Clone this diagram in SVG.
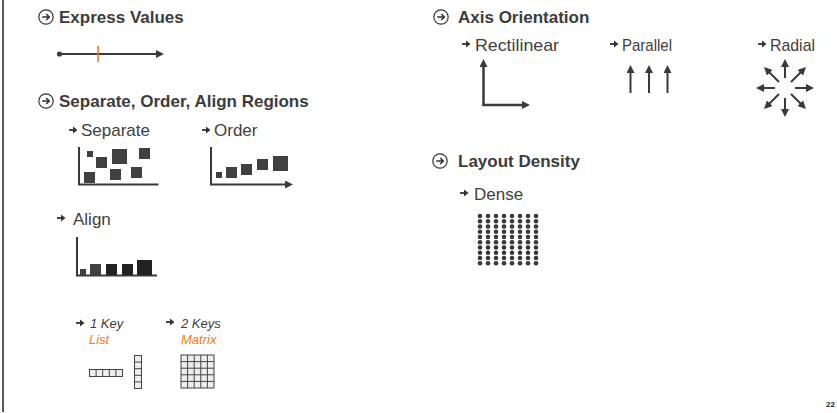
<svg xmlns="http://www.w3.org/2000/svg" xmlns:xlink="http://www.w3.org/1999/xlink" width="837" height="413" viewBox="0 0 837 413">
<style>
.h{font-family:"Liberation Sans",Arial,sans-serif;font-weight:bold;font-size:17px;fill:#3c3c3c}
.s{font-family:"Liberation Sans",Arial,sans-serif;font-size:17px;fill:#404040}
.k{font-family:"Liberation Sans",Arial,sans-serif;font-style:italic;font-size:13px;fill:#3c3c3c}
.o{font-family:"Liberation Sans",Arial,sans-serif;font-style:italic;font-size:13px;fill:#f47920}
.ax{stroke:#3a3a3a;stroke-width:2;fill:none}
.ax3{stroke:#3a3a3a;stroke-width:2.5;fill:none}
.sq{fill:#404040}
.dk{fill:#222}
.cell{fill:#eeeeee;stroke:#444;stroke-width:1}
.dot{fill:#3a3a3a}
</style>
<defs>
<marker id="ah" viewBox="0 0 8 8" refX="1" refY="4" markerWidth="8" markerHeight="8" markerUnits="userSpaceOnUse" orient="auto">
<path d="M0,0 L8,4 L0,8 z" fill="#3a3a3a"/>
</marker>
<g id="icon">
<circle cx="0" cy="0" r="7.2" fill="none" stroke="#333" stroke-width="1.2"/>
<path d="M-3.8,0 H3 M0.2,-3 L3.3,0 L0.2,3" fill="none" stroke="#333" stroke-width="1.5"/>
</g>
<g id="sa">
<path d="M0,0 H5" stroke="#333" stroke-width="1.8"/>
<path d="M4,-3.5 L8.5,0 L4,3.5 z" fill="#333"/>
</g>
<g id="drow">
<circle class="dot" cx="480" cy="0" r="2.3"/><circle class="dot" cx="488" cy="0" r="2.3"/>
<circle class="dot" cx="496" cy="0" r="2.3"/><circle class="dot" cx="504" cy="0" r="2.3"/>
<circle class="dot" cx="512" cy="0" r="2.3"/><circle class="dot" cx="520" cy="0" r="2.3"/>
<circle class="dot" cx="528" cy="0" r="2.3"/><circle class="dot" cx="536" cy="0" r="2.3"/>
</g>
</defs>
<rect width="837" height="413" fill="#ffffff"/>
<line x1="3" y1="0" x2="3" y2="412" stroke="#222" stroke-width="1.5"/>

<g id="express-values">
<use xlink:href="#icon" x="46" y="17"/>
<text class="h" x="59" y="23">Express Values</text>
<circle cx="59.5" cy="54" r="2.6" fill="#3a3a3a"/>
<line x1="59" y1="54" x2="157" y2="54" class="ax" marker-end="url(#ah)"/>
<line x1="98" y1="46" x2="98" y2="62" stroke="#f47920" stroke-width="1.6"/>
</g>

<g id="separate-order-align">
<use xlink:href="#icon" x="46" y="101"/>
<text class="h" x="59" y="107">Separate, Order, Align Regions</text>
</g>

<g id="separate">
<use xlink:href="#sa" x="69" y="130"/>
<text class="s" x="81" y="136">Separate</text>
<path d="M79,147 V184.5 H158.5" class="ax"/>
<rect class="sq" x="87" y="151" width="6" height="6"/>
<rect class="sq" x="96" y="157" width="11" height="11"/>
<rect class="sq" x="112" y="149" width="15" height="15"/>
<rect class="sq" x="139" y="148" width="11" height="11"/>
<rect class="sq" x="84" y="172" width="11" height="11"/>
<rect class="sq" x="110" y="169" width="11" height="11"/>
<rect class="sq" x="131" y="167" width="11" height="11"/>
</g>

<g id="order">
<use xlink:href="#sa" x="202" y="130"/>
<text class="s" x="214" y="136">Order</text>
<path d="M211,147 V184.5 H286" class="ax" marker-end="url(#ah)"/>
<rect class="sq" x="216" y="172" width="6" height="6"/>
<rect class="sq" x="226" y="167" width="11" height="11"/>
<rect class="sq" x="241" y="164" width="11" height="11"/>
<rect class="sq" x="257" y="159" width="11" height="11"/>
<rect class="sq" x="273" y="156" width="15" height="15"/>
</g>

<g id="align">
<use xlink:href="#sa" x="57" y="218"/>
<text class="s" x="73" y="225">Align</text>
<path d="M77,237 V275.5 H157" class="ax"/>
<rect class="sq" x="80" y="269" width="6" height="6"/>
<rect class="sq" x="90" y="264" width="11" height="11"/>
<rect class="dk" x="106" y="264" width="11" height="11"/>
<rect class="dk" x="122" y="264" width="11" height="11"/>
<rect class="dk" x="137" y="260" width="15" height="15"/>
</g>

<g id="one-key">
<use xlink:href="#sa" x="76" y="323"/>
<text class="k" x="90" y="328">1 Key</text>
<text class="o" x="89" y="344">List</text>
<rect class="cell" x="89.5" y="369.5" width="33" height="7"/>
<path d="M96.1,369.5 V376.5 M102.7,369.5 V376.5 M109.3,369.5 V376.5 M115.9,369.5 V376.5" stroke="#444" stroke-width="1"/>
<rect class="cell" x="134.5" y="355.5" width="7" height="33"/>
<path d="M134.5,362.1 H141.5 M134.5,368.7 H141.5 M134.5,375.3 H141.5 M134.5,381.9 H141.5" stroke="#444" stroke-width="1"/>
</g>

<g id="two-keys">
<use xlink:href="#sa" x="166" y="322"/>
<text class="k" x="181" y="328">2 Keys</text>
<text class="o" x="181" y="344">Matrix</text>
<rect class="cell" x="181" y="355" width="33" height="33"/>
<path d="M187.6,355 V388 M194.2,355 V388 M200.8,355 V388 M207.4,355 V388 M181,361.6 H214 M181,368.2 H214 M181,374.8 H214 M181,381.4 H214" stroke="#444" stroke-width="1"/>
</g>

<g id="axis-orientation">
<use xlink:href="#icon" x="441" y="17"/>
<text class="h" x="458" y="23">Axis Orientation</text>
</g>

<g id="rectilinear">
<use xlink:href="#sa" x="462" y="44"/>
<text class="s" x="475" y="51" textLength="84" lengthAdjust="spacingAndGlyphs">Rectilinear</text>
<path d="M483.5,105 V66" class="ax3" marker-end="url(#ah)"/>
<path d="M482.25,105 H523" class="ax3" marker-end="url(#ah)"/>
</g>

<g id="parallel">
<use xlink:href="#sa" x="610" y="44"/>
<text class="s" x="622" y="51" textLength="50" lengthAdjust="spacingAndGlyphs">Parallel</text>
<line x1="630.5" y1="93" x2="630.5" y2="72" class="ax" marker-end="url(#ah)"/>
<line x1="649" y1="93" x2="649" y2="72" class="ax" marker-end="url(#ah)"/>
<line x1="667.5" y1="93" x2="667.5" y2="72" class="ax" marker-end="url(#ah)"/>
</g>

<g id="radial">
<use xlink:href="#sa" x="758" y="44"/>
<text class="s" x="770" y="51" textLength="45" lengthAdjust="spacingAndGlyphs">Radial</text>
<line x1="785" y1="78" x2="785" y2="66" class="ax" marker-end="url(#ah)"/>
<line x1="785" y1="98" x2="785" y2="110" class="ax" marker-end="url(#ah)"/>
<line x1="775" y1="88" x2="763" y2="88" class="ax" marker-end="url(#ah)"/>
<line x1="795" y1="88" x2="807" y2="88" class="ax" marker-end="url(#ah)"/>
<line x1="779" y1="82" x2="769" y2="72" class="ax" marker-end="url(#ah)"/>
<line x1="791" y1="82" x2="801" y2="72" class="ax" marker-end="url(#ah)"/>
<line x1="779" y1="94" x2="769" y2="104" class="ax" marker-end="url(#ah)"/>
<line x1="791" y1="94" x2="801" y2="104" class="ax" marker-end="url(#ah)"/>
</g>

<g id="layout-density">
<use xlink:href="#icon" x="440" y="161"/>
<text class="h" x="458" y="167">Layout Density</text>
</g>

<g id="dense">
<use xlink:href="#sa" x="460" y="193"/>
<text class="s" x="474" y="200">Dense</text>
<use xlink:href="#drow" y="216"/>
<use xlink:href="#drow" y="221.25"/>
<use xlink:href="#drow" y="226.5"/>
<use xlink:href="#drow" y="231.75"/>
<use xlink:href="#drow" y="237"/>
<use xlink:href="#drow" y="242.25"/>
<use xlink:href="#drow" y="247.5"/>
<use xlink:href="#drow" y="252.75"/>
<use xlink:href="#drow" y="258"/>
<use xlink:href="#drow" y="263.25"/>
</g>

<text x="826" y="407" font-family="Liberation Sans, Arial, sans-serif" font-size="8" font-weight="bold" fill="#222">22</text>
</svg>
